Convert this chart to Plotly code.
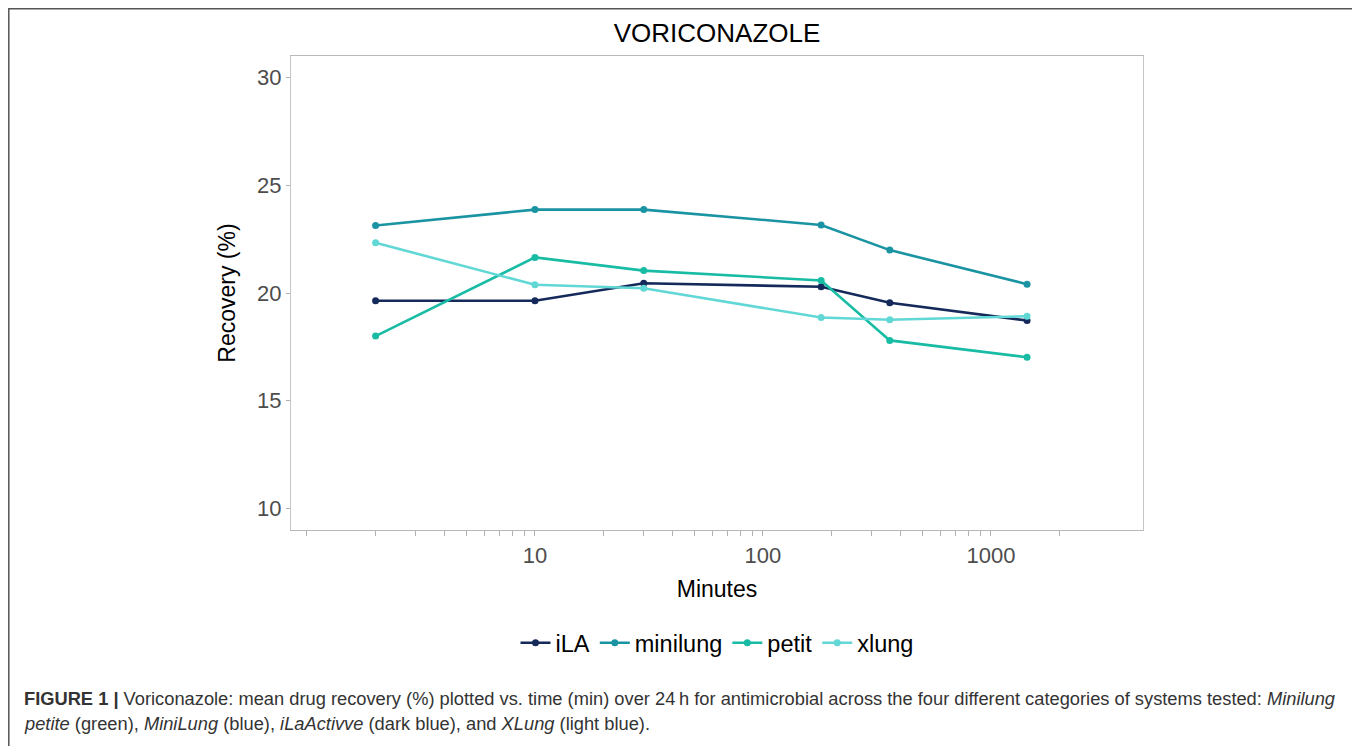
import plotly.graph_objects as go

minutes = [2, 10, 30, 180, 360, 1440]
ila = [19.64, 19.64, 20.45, 20.29, 19.55, 18.72]
minilung = [23.13, 23.87, 23.87, 23.16, 21.99, 20.41]
petit = [18.0, 21.65, 21.04, 20.58, 17.8, 17.02]
xlung = [22.33, 20.38, 20.22, 18.86, 18.76, 18.92]

series_names = ["iLA", "minilung", "petit", "xlung"]
series_values = [ila, minilung, petit, xlung]
series_colors = ["#152a5b", "#1a93a3", "#18bca4", "#62d8d6"]

x_tick_vals = [1, 2, 3, 4, 5, 6, 7, 8, 9,
               10, 20, 30, 40, 50, 60, 70, 80, 90,
               100, 200, 300, 400, 500, 600, 700, 800, 900,
               1000, 2000]
x_labels = {10: "10", 100: "100", 1000: "1000"}
y_tick_vals = [10, 15, 20, 25, 30]

title_text = "VORICONAZOLE"
caption_line1 = ("<b>FIGURE 1 |</b> Voriconazole: mean drug recovery (%) plotted vs. time (min) over 24\u2009h "
                 "for antimicrobial across the four different categories of systems tested: <i>Minilung</i>")
caption_line2 = ("<i>petite</i> (green), <i>MiniLung</i> (blue), <i>iLaActivve</i> (dark blue), "
                 "and <i>XLung</i> (light blue).")

FONT = "Liberation Sans, Arial, sans-serif"

fig = go.Figure()
for name, vals, col in zip(series_names, series_values, series_colors):
    fig.add_trace(go.Scatter(
        x=minutes, y=vals, name=name, mode="lines+markers",
        line=dict(color=col, width=2.6),
        marker=dict(color=col, size=7),
    ))

# page is offset by the default 8px body margin
OFF = 8
W, H = 1360, 746
L, R, T, B = 291 - OFF, 1143 - OFF, 56 - OFF, 530 - OFF
pw, ph = R - L, B - T

def px(xp):
    return (xp - OFF - L) / pw

def py(yp):
    return (B - (yp - OFF)) / ph

fig.update_layout(
    width=W, height=H,
    margin=dict(l=L, r=W - R, t=T, b=H - B),
    paper_bgcolor="white", plot_bgcolor="white",
    font=dict(family=FONT, color="#000000"),
    title=dict(text=title_text, x=0.5, xref="paper", y=1 - (33 - OFF) / H, yref="container",
               yanchor="middle", xanchor="center", font=dict(size=26, color="#000000")),
    showlegend=True,
    legend=dict(orientation="h", x=0.5, xanchor="center", y=py(643), yanchor="middle",
                font=dict(size=23.5, color="#000000"), itemwidth=30, bgcolor="rgba(0,0,0,0)"),
    xaxis=dict(
        type="log", range=[-0.070, 3.667],
        tickmode="array", tickvals=x_tick_vals,
        ticktext=[x_labels.get(v, "") for v in x_tick_vals],
        ticks="outside", ticklen=5, tickcolor="#b0b0b0", tickwidth=1,
        tickfont=dict(size=22, color="#4d4d4d"),
        showgrid=False, zeroline=False,
        showline=True, linecolor="#b8b8b8", linewidth=1.2, mirror=True,
        title=dict(text="Minutes", font=dict(size=23, color="#000000"), standoff=14),
    ),
    yaxis=dict(
        range=[9, 31], tickmode="array", tickvals=y_tick_vals,
        ticks="outside", ticklen=4, tickcolor="#b0b0b0", tickwidth=1,
        tickfont=dict(size=22, color="#4d4d4d"),
        showgrid=False, zeroline=False,
        showline=True, linecolor="#c4c4c4", linewidth=1.2, mirror=True,
        title=dict(text="Recovery (%)", font=dict(size=23, color="#000000"), standoff=14),
    ),
)

# outer figure frame
fig.add_shape(type="rect", xref="paper", yref="paper",
              x0=px(8.8), x1=px(1355), y0=py(780), y1=py(8.8),
              line=dict(color="#555555", width=1.5), fillcolor="rgba(0,0,0,0)", layer="below")

fig.add_annotation(text=caption_line1, xref="paper", yref="paper", x=px(22), y=py(698),
                   xanchor="left", yanchor="middle", showarrow=False, align="left",
                   font=dict(size=18.3, color="#333333", family=FONT))
fig.add_annotation(text=caption_line2, xref="paper", yref="paper", x=px(22), y=py(723),
                   xanchor="left", yanchor="middle", showarrow=False, align="left",
                   font=dict(size=18.3, color="#333333", family=FONT))

fig.write_html("out.html")
